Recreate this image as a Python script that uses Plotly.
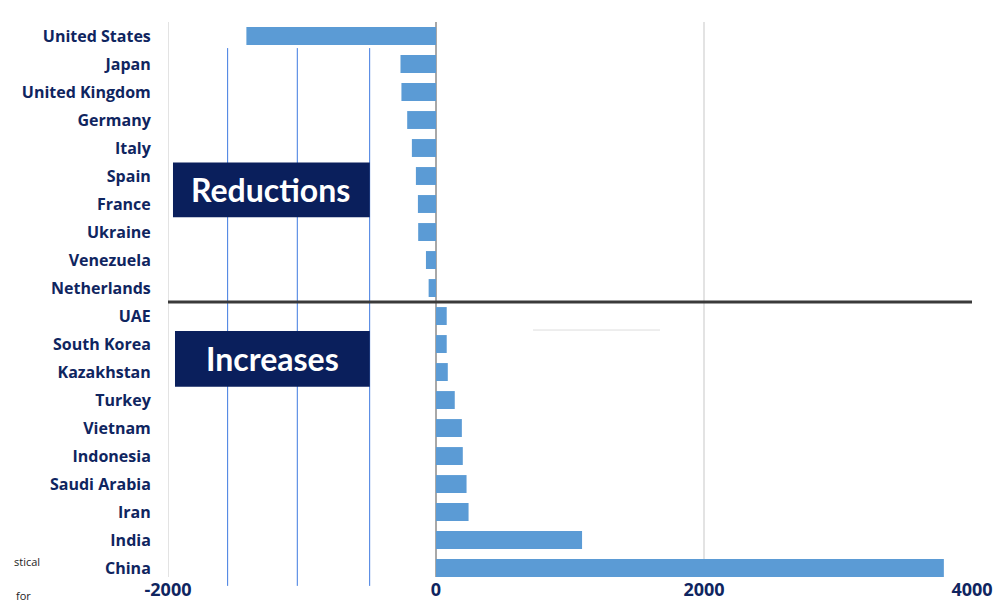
import plotly.graph_objects as go

countries = [
    "United States", "Japan", "United Kingdom", "Germany", "Italy", "Spain",
    "France", "Ukraine", "Venezuela", "Netherlands", "UAE", "South Korea",
    "Kazakhstan", "Turkey", "Vietnam", "Indonesia", "Saudi Arabia", "Iran",
    "India", "China",
]
changes = [
    -1415, -265, -258, -215, -180, -150, -135, -133, -75, -55,
    80, 80, 88, 140, 193, 200, 228, 243, 1090, 3790,
]
x_ticks = [-2000, 0, 2000, 4000]
guide_x = [-1555, -1035, -495]

NAVY = "#0f2560"
BAR = "#5b9bd5"
BOX = "#0a1f5c"
FONT = "Open Sans"

fig = go.Figure()
fig.add_trace(go.Bar(
    y=countries, x=changes, orientation="h",
    marker=dict(color=BAR, line=dict(width=0)),
    width=0.64,
))

shapes = []
# left-edge gridline
shapes.append(dict(type="line", xref="x", yref="paper", x0=-2000, x1=-2000,
                   y0=0, y1=1, line=dict(color="#e3e3e3", width=2), layer="below"))
# thin blue guide lines
for gx in guide_x:
    shapes.append(dict(type="line", xref="x", yref="paper", x0=gx, x1=gx,
                       y0=-0.016, y1=0.953, line=dict(color="#3f7be0", width=1)))
# divider between reductions and increases
shapes.append(dict(type="line", xref="paper", yref="y", x0=0, x1=1,
                   y0=9.5, y1=9.5, line=dict(color="#3a3a3a", width=3)))
# faint short line
shapes.append(dict(type="line", xref="paper", yref="paper", x0=0.454, x1=0.612,
                   y0=0.445, y1=0.445, line=dict(color="#dddddd", width=1)))
# label boxes
shapes.append(dict(type="rect", xref="paper", yref="paper", x0=0.0062, x1=0.251,
                   y0=0.648, y1=0.747, fillcolor=BOX, line=dict(width=0)))
shapes.append(dict(type="rect", xref="paper", yref="paper", x0=0.0087, x1=0.251,
                   y0=0.343, y1=0.4434, fillcolor=BOX, line=dict(width=0)))

annotations = [
    dict(text="<b>Reductions</b>", xref="paper", yref="paper", x=0.128, y=0.6975,
         xanchor="center", yanchor="middle", showarrow=False,
         font=dict(family="Lato", size=32, color="white")),
    dict(text="<b>Increases</b>", xref="paper", yref="paper", x=0.13, y=0.393,
         xanchor="center", yanchor="middle", showarrow=False,
         font=dict(family="Lato", size=32, color="white")),
    dict(text="stical", xref="paper", yref="paper", x=-0.194, y=0.0287,
         xanchor="left", yanchor="middle", showarrow=False,
         font=dict(family=FONT, size=11, color="#222")),
    dict(text="for", xref="paper", yref="paper", x=-0.192, y=-0.034,
         xanchor="left", yanchor="middle", showarrow=False,
         font=dict(family=FONT, size=11, color="#222")),
]

fig.update_layout(
    width=997, height=604,
    margin=dict(l=168, r=25, t=22, b=27),
    paper_bgcolor="white", plot_bgcolor="white",
    showlegend=False,
    shapes=shapes, annotations=annotations,
    font=dict(family=FONT, color=NAVY),
    xaxis=dict(
        range=[-2000, 4000], tickvals=x_ticks, ticktext=[str(v) for v in x_ticks],
        showgrid=True, gridcolor="#e3e3e3", gridwidth=2,
        zeroline=True, zerolinecolor="#a8a8a8", zerolinewidth=2,
        showline=False, automargin=False,
        tickfont=dict(family=FONT, size=18, color=NAVY, weight="bold"),
    ),
    yaxis=dict(
        type="category", categoryorder="array", categoryarray=countries,
        range=[19.32, -0.5], showgrid=False, zeroline=False, showline=False,
        automargin=False,
        ticks="outside", ticklen=13, tickcolor="rgba(0,0,0,0)",
        tickfont=dict(family=FONT, size=16, color=NAVY, weight="bold"),
    ),
)

fig.write_html("out.html")
